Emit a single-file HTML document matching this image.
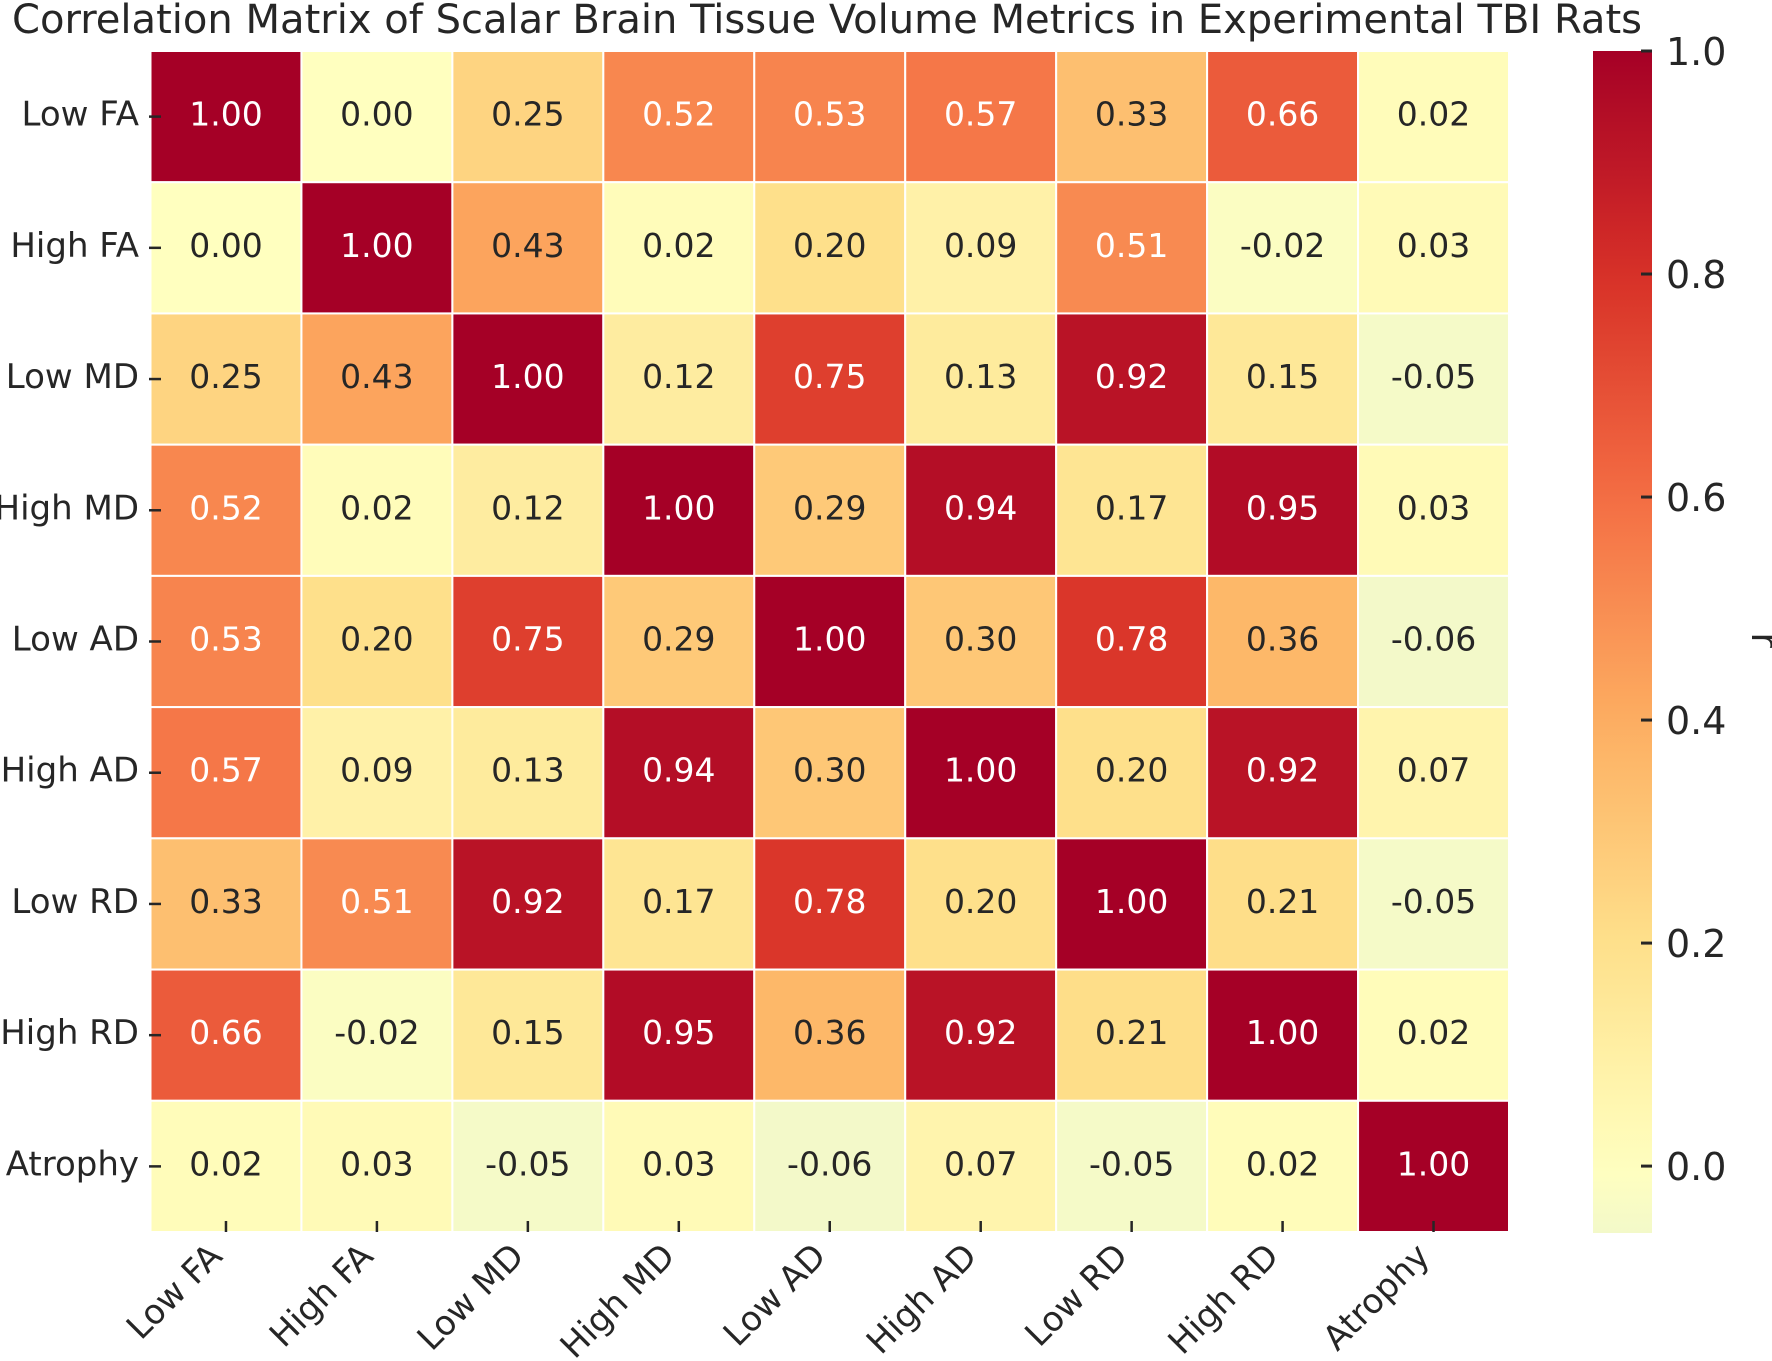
<!DOCTYPE html>
<html><head><meta charset="utf-8"><style>
html,body{margin:0;padding:0;background:#fff;}
svg{display:block;font-family:"DejaVu Sans","Liberation Sans",sans-serif;}
</style></head><body>
<svg id="chart" width="1772" height="1361" viewBox="0 0 1772 1361">
<text x="12" y="33" font-size="40" fill="#262626" textLength="1630" lengthAdjust="spacingAndGlyphs">Correlation Matrix of Scalar Brain Tissue Volume Metrics in Experimental TBI Rats</text>
<defs><linearGradient id="cbgrad" x1="0" y1="1" x2="0" y2="0"></linearGradient></defs>
<g id="cells"></g>
<g id="labels"></g>
<g id="cbar"></g>
</svg>
<script>
const labels = ["Low FA","High FA","Low MD","High MD","Low AD","High AD","Low RD","High RD","Atrophy"];
const row0 = [1.00,0.00,0.25,0.52,0.53,0.57,0.33,0.66,0.02];
const row1 = [0.00,1.00,0.43,0.02,0.20,0.09,0.51,-0.02,0.03];
const row2 = [0.25,0.43,1.00,0.12,0.75,0.13,0.92,0.15,-0.05];
const row3 = [0.52,0.02,0.12,1.00,0.29,0.94,0.17,0.95,0.03];
const row4 = [0.53,0.20,0.75,0.29,1.00,0.30,0.78,0.36,-0.06];
const row5 = [0.57,0.09,0.13,0.94,0.30,1.00,0.20,0.92,0.07];
const row6 = [0.33,0.51,0.92,0.17,0.78,0.20,1.00,0.21,-0.05];
const row7 = [0.66,-0.02,0.15,0.95,0.36,0.92,0.21,1.00,0.02];
const row8 = [0.02,0.03,-0.05,0.03,-0.06,0.07,-0.05,0.02,1.00];
const matrix = [row0,row1,row2,row3,row4,row5,row6,row7,row8];
const cbTicks = [0.0,0.2,0.4,0.6,0.8,1.0];
const cbMin = -0.06, cbMax = 1.0;

const NS="http://www.w3.org/2000/svg";
const L=150.5,R=1509,T=51,B=1232;
const n=labels.length, cw=(R-L)/n, ch=(B-T)/n;
const xPos=i=>L+i*cw, yPos=i=>T+i*ch;
const stops=[[0.4,[215,235,225]],[0.5,[255,255,191]],[0.6,[254,224,139]],[0.7,[253,174,97]],[0.8,[244,109,67]],[0.9,[215,48,39]],[1.0,[165,0,38]]];
function color(v){const p=0.5+v/2;for(let k=0;k<stops.length-1;k++){const a=stops[k],b=stops[k+1];if(p<=b[0]||k==stops.length-2){let t=(p-a[0])/(b[0]-a[0]);t=Math.max(0,Math.min(1,t));return a[1].map((c,j)=>Math.round(c+(b[1][j]-c)*t));}}}
function rgb(c){return `rgb(${c[0]},${c[1]},${c[2]})`;}
function lum(c){const f=x=>{x/=255;return x<=0.03928?x/12.92:Math.pow((x+0.055)/1.055,2.4);};return 0.2126*f(c[0])+0.7152*f(c[1])+0.0722*f(c[2]);}
function mk(tag,attrs,parent){const e=document.createElementNS(NS,tag);for(const k in attrs)e.setAttribute(k,attrs[k]);parent.appendChild(e);return e;}
const cells=document.getElementById('cells'), lab=document.getElementById('labels'), cb=document.getElementById('cbar');
for(let r=0;r<n;r++)for(let c=0;c<n;c++){
 const v=matrix[r][c], col=color(v);
 const rect=mk('rect',{x:xPos(c),y:yPos(r),width:cw,height:ch,fill:rgb(col),stroke:'#fff','stroke-width':2},cells);
 
 
 const t=mk('text',{x:xPos(c)+cw/2,y:yPos(r)+ch/2+9,'text-anchor':'middle','font-size':33,fill:lum(col)<0.408?'#fff':'#262626'},cells);
 t.textContent=v.toFixed(2);
 
 
}
for(let i=0;i<n;i++){
 const yc=yPos(i)+ch/2;
 const tk=mk('line',{x1:149,x2:161,y1:yc,y2:yc,stroke:'#262626','stroke-width':2.5},lab);
 
 
 const t=mk('text',{x:139,y:yc+9,'text-anchor':'end','font-size':34,fill:'#262626'},lab);
 t.textContent=labels[i];
 
 
 const xc=xPos(i)+cw/2;
 const tx=mk('line',{x1:xc,x2:xc,y1:1221,y2:B,stroke:'#262626','stroke-width':2.5},lab);
 
 
 const ax=xc-2, ay=1258;
 const xt=mk('text',{x:ax,y:ay,'text-anchor':'end','font-size':34,fill:'#262626',transform:`rotate(-45 ${ax} ${ay})`},lab);
 xt.textContent=labels[i];
 
 
}
const cbL=1593,cbR=1652,cbT=51,cbB=1233;
const cbY=v=>cbB-(v-cbMin)/(cbMax-cbMin)*(cbB-cbT);
const grad=document.getElementById('cbgrad');
for(let k=0;k<=20;k++){const v=cbMin+(cbMax-cbMin)*k/20;mk('stop',{offset:(k/20),'stop-color':rgb(color(v))},grad);}
const bar=mk('rect',{x:cbL,y:cbT,width:cbR-cbL,height:cbB-cbT,fill:'url(#cbgrad)'},cb);


cbTicks.forEach(v=>{
 const y=cbY(v);
 const l=mk('line',{x1:cbR-11,x2:cbR,y1:y,y2:y,stroke:'#262626','stroke-width':3},cb);
 
 
 const t=mk('text',{x:1666,y:y+14,'font-size':38,fill:'#262626'},cb);
 t.textContent=v.toFixed(1);
 
 
});
const rl=mk('text',{x:1752,y:640,'text-anchor':'middle','font-size':38,fill:'#262626',transform:'rotate(90 1752 640)'},cb);
rl.textContent='r';


</script>
</body></html>
